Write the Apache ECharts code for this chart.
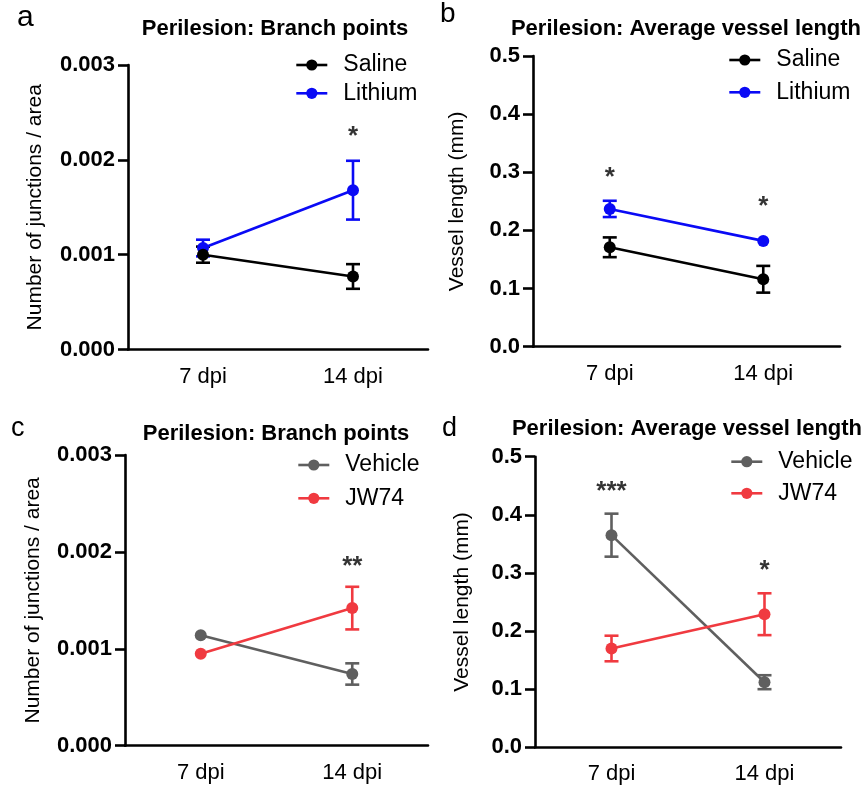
<!DOCTYPE html>
<html>
<head>
<meta charset="utf-8">
<script src="https://cdn.jsdelivr.net/npm/echarts@6/dist/echarts.min.js"></script>
<style>
  html, body { margin: 0; padding: 0; background: #fff; }
  #chart { width: 866px; height: 789px; }
</style>
</head>
<body>
<div id="chart"></div>
<script>
// ---- data ----
const categories = ['7 dpi', '14 dpi'];

// panel a: branch points (saline / lithium)
const salineBranch = [0.00100, 0.00077];
const salineBranchErr = [0.000085, 0.00013];
const lithiumBranch = [0.00107, 0.00168];
const lithiumBranchErr = [0.000088, 0.00031];
const starsA = ['', '*'];
const starsAValue = [null, 0.00230];

// panel b: vessel length (saline / lithium)
const salineLength = [0.171, 0.116];
const salineLengthErr = [0.017, 0.023];
const lithiumLength = [0.237, 0.182];
const lithiumLengthErr = [0.014, 0.004];
const starsB = ['*', '*'];
const starsBValue = [0.299, 0.249];

// panel c: branch points (vehicle / JW74)
const vehicleBranch = [0.00114, 0.00074];
const vehicleBranchErr = [0.00003, 0.00011];
const jw74Branch = [0.00095, 0.00142];
const jw74BranchErr = [0.00002, 0.00022];
const starsC = ['', '**'];
const starsCValue = [null, 0.00190];

// panel d: vessel length (vehicle / JW74)
const vehicleLength = [0.365, 0.112];
const vehicleLengthErr = [0.037, 0.012];
const jw74Length = [0.170, 0.229];
const jw74LengthErr = [0.022, 0.036];
const starsD = ['***', '*'];
const starsDValue = [0.448, 0.312];

const branchTicks = { min: 0, max: 0.003, interval: 0.001, digits: 3 };
const lengthTicks = { min: 0, max: 0.5, interval: 0.1, digits: 1 };

// ---- styles ----
const FONT = 'Liberation Sans, Arial, Helvetica, sans-serif';
const COLORS = { Saline: '#000000', Lithium: '#0a0af5', Vehicle: '#5f5f5f', JW74: '#f03a40' };
const LW = 2.6;
const SYMBOL = 12;

const chart = echarts.init(document.getElementById('chart'), null, { renderer: 'canvas' });

const grids = [
  { left: 128, top: 65, width: 300, height: 284.5 },
  { left: 533, top: 56, width: 307, height: 290.7 },
  { left: 125, top: 455, width: 303, height: 290.7 },
  { left: 535, top: 456.7, width: 306, height: 290.6 }
];

function xAxis(gi) {
  return {
    type: 'category', gridIndex: gi, data: categories, boundaryGap: true,
    axisLine: { lineStyle: { color: '#000', width: LW } },
    axisTick: { alignWithLabel: true, length: 10, lineStyle: { color: '#000', width: LW } },
    axisLabel: { color: '#000', fontSize: 22, fontFamily: FONT, margin: 16 },
    splitLine: { show: false }
  };
}
function yAxis(gi, t, name, gap) {
  return {
    type: 'value', gridIndex: gi, min: t.min, max: t.max, interval: t.interval,
    name: name, nameLocation: 'middle', nameGap: gap,
    nameTextStyle: { color: '#000', fontSize: 21, fontFamily: FONT },
    axisLine: { show: true, lineStyle: { color: '#000', width: LW } },
    axisTick: { show: true, length: 10, lineStyle: { color: '#000', width: LW } },
    axisLabel: { color: '#000', fontSize: 22, fontWeight: 'bold', fontFamily: FONT, margin: 13,
      formatter: v => v.toFixed(t.digits) },
    splitLine: { show: false }
  };
}

function lineSeries(name, gi, values) {
  return {
    type: 'line', name: name, xAxisIndex: gi, yAxisIndex: gi, data: values,
    symbol: 'circle', symbolSize: SYMBOL, z: 3,
    itemStyle: { color: COLORS[name] },
    lineStyle: { color: COLORS[name], width: LW }
  };
}
function errSeries(name, gi, values, errs) {
  const data = values.map((v, i) => [i, v - errs[i], v + errs[i]]);
  return {
    type: 'custom', name: name + ' SEM', xAxisIndex: gi, yAxisIndex: gi, data: data, z: 2,
    renderItem: function (params, api) {
      const lo = api.coord([api.value(0), api.value(1)]);
      const hi = api.coord([api.value(0), api.value(2)]);
      // like the original plotting program: bars shorter than the symbol are hidden
      if ((lo[1] - hi[1]) / 2 < SYMBOL / 2) return null;
      const hw = 7;
      const st = { stroke: COLORS[name], lineWidth: LW, fill: null };
      return {
        type: 'group', children: [
          { type: 'line', shape: { x1: lo[0], y1: lo[1], x2: hi[0], y2: hi[1] }, style: st },
          { type: 'line', shape: { x1: lo[0] - hw, y1: lo[1], x2: lo[0] + hw, y2: lo[1] }, style: st },
          { type: 'line', shape: { x1: hi[0] - hw, y1: hi[1], x2: hi[0] + hw, y2: hi[1] }, style: st }
        ]
      };
    },
    encode: { x: 0, y: [1, 2] }
  };
}
function starSeries(gi, labels, values) {
  const data = [];
  labels.forEach((s, i) => { if (s) data.push({ name: s, value: [i, values[i]] }); });
  return {
    type: 'scatter', name: 'sig' + gi, xAxisIndex: gi, yAxisIndex: gi, data: data,
    symbolSize: 1, itemStyle: { color: 'rgba(0,0,0,0)' }, silent: true, z: 4,
    label: { show: true, position: 'inside', formatter: '{b}', color: '#000',
      fontSize: 26, fontWeight: 'bold', fontFamily: FONT, offset: [0, 5] }
  };
}
function legend(names, left, top, gap) {
  return {
    data: names, orient: 'vertical', left: left, top: top, itemGap: gap,
    itemWidth: 31, itemHeight: 14, padding: 0, selectedMode: false,
    lineStyle: { width: LW },
    textStyle: { color: '#000', fontSize: 23, fontFamily: FONT, lineHeight: 23, padding: [0, 0, 0, 11] }
  };
}
function title(text, cx, cy) {
  return {
    text: text, left: cx, top: cy - 11, textAlign: 'center', padding: 0,
    textStyle: { color: '#000', fontSize: 22, fontWeight: 'bold', fontFamily: FONT, lineHeight: 22 }
  };
}
function letter(text, x, y, size) {
  return { type: 'text', left: x, top: y,
    style: { text: text, fill: '#000', font: size + 'px ' + FONT } };
}

const option = {
  animation: false,
  backgroundColor: '#fff',
  title: [
    title('Perilesion: Branch points', 275, 29),
    title('Perilesion: Average vessel length', 686, 29),
    title('Perilesion: Branch points', 276, 434),
    title('Perilesion: Average vessel length', 687, 429)
  ],
  legend: [
    legend(['Saline', 'Lithium'], 295, 53.5, 5.3),
    legend(['Saline', 'Lithium'], 728, 48.5, 9.3),
    legend(['Vehicle', 'JW74'], 297, 453.5, 10.3),
    legend(['Vehicle', 'JW74'], 730, 450.2, 8.6)
  ],
  grid: grids,
  xAxis: [xAxis(0), xAxis(1), xAxis(2), xAxis(3)],
  yAxis: [
    yAxis(0, branchTicks, 'Number of junctions / area', 82),
    yAxis(1, lengthTicks, 'Vessel length (mm)', 65),
    yAxis(2, branchTicks, 'Number of junctions / area', 81),
    yAxis(3, lengthTicks, 'Vessel length (mm)', 62)
  ],
  series: [
    errSeries('Lithium', 0, lithiumBranch, lithiumBranchErr),
    lineSeries('Lithium', 0, lithiumBranch),
    errSeries('Saline', 0, salineBranch, salineBranchErr),
    lineSeries('Saline', 0, salineBranch),
    starSeries(0, starsA, starsAValue),

    errSeries('Saline', 1, salineLength, salineLengthErr),
    lineSeries('Saline', 1, salineLength),
    errSeries('Lithium', 1, lithiumLength, lithiumLengthErr),
    lineSeries('Lithium', 1, lithiumLength),
    starSeries(1, starsB, starsBValue),

    errSeries('Vehicle', 2, vehicleBranch, vehicleBranchErr),
    lineSeries('Vehicle', 2, vehicleBranch),
    errSeries('JW74', 2, jw74Branch, jw74BranchErr),
    lineSeries('JW74', 2, jw74Branch),
    starSeries(2, starsC, starsCValue),

    errSeries('Vehicle', 3, vehicleLength, vehicleLengthErr),
    lineSeries('Vehicle', 3, vehicleLength),
    errSeries('JW74', 3, jw74Length, jw74LengthErr),
    lineSeries('JW74', 3, jw74Length),
    starSeries(3, starsD, starsDValue)
  ],
  graphic: [
    letter('a', 17, 3, 30),
    letter('b', 440, 0, 28),
    letter('c', 11, 415, 27),
    letter('d', 442, 415, 27)
  ]
};
chart.setOption(option);
</script>
</body>
</html>
